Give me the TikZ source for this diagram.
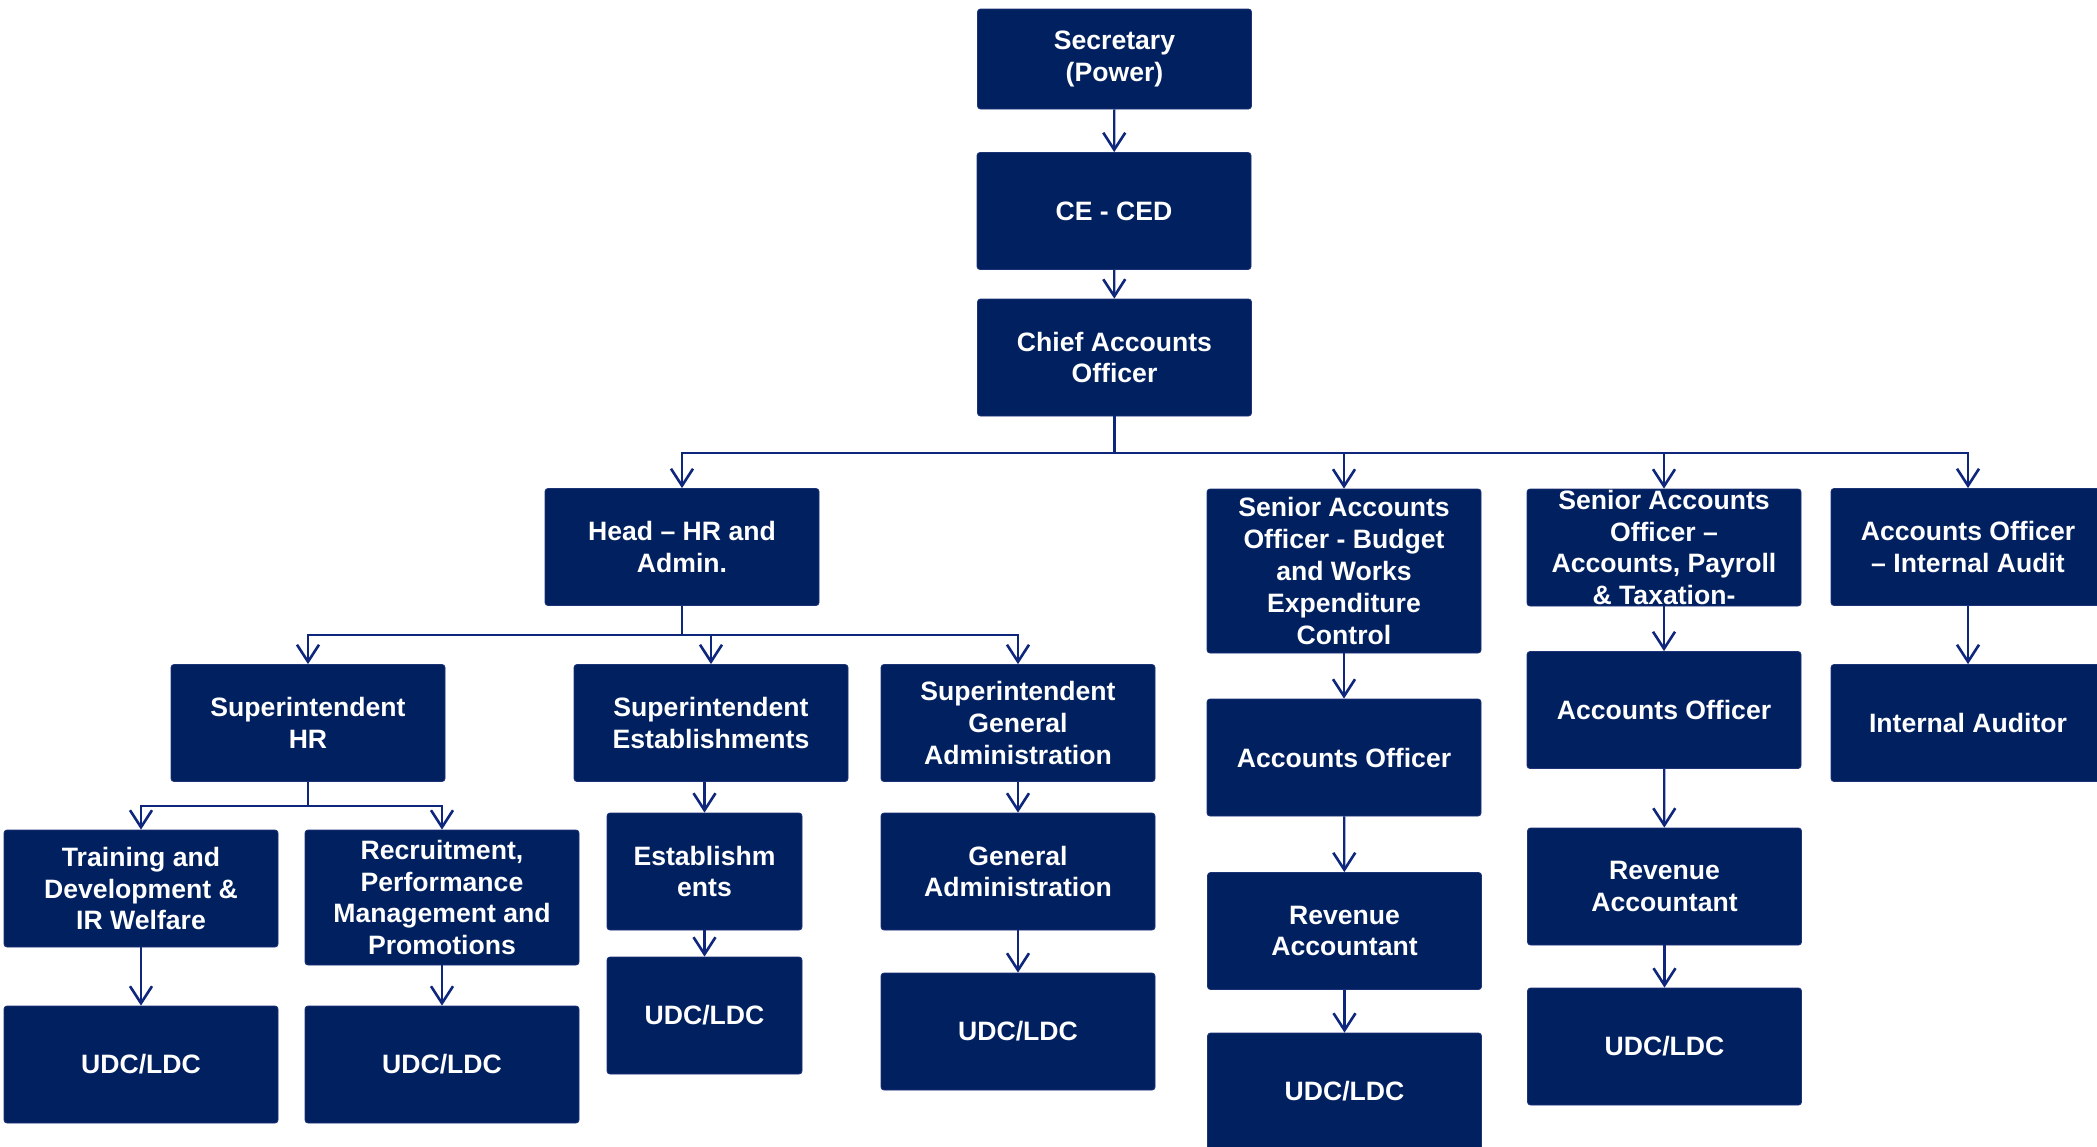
\documentclass[tikz,border=0pt]{standalone}
\usepackage{fontspec}
\setmainfont{Liberation Sans}
\usetikzlibrary{arrows.meta}
\definecolor{boxfill}{RGB}{0,32,96}
\definecolor{boxedge}{RGB}{30,50,120}
\definecolor{linkc}{RGB}{14,38,124}
\tikzset{
  orgbox/.style={draw=boxedge, line width=0.4pt, fill=boxfill, rounded corners=1.5pt,
    text=white, font=\bfseries\fontsize{13.3}{15.9}\selectfont, align=center,
    inner xsep=2pt, inner ysep=0pt, minimum width=137pt, minimum height=58.5pt},
  narrowbox/.style={orgbox, minimum width=97.5pt},
  link/.style={draw=linkc, line width=1.1pt,
    -{Straight Barb[length=8.5pt, width=11pt, line width=1.3pt]}},
}
\begin{document}
\begin{tikzpicture}[x=0.5pt, y=-0.5pt]
\useasboundingbox (0,0) rectangle (2097,1146);

% top of the hierarchy
\node[orgbox, minimum height=50pt] (sec) at (1114.5,59) {Secretary\\(Power)};
\node[orgbox] (ce)  at (1114,211)   {CE - CED};
\node[orgbox] (cao) at (1114.5,357.5) {Chief Accounts\\Officer};

% second level
\node[orgbox] (head) at (682,547)  {Head -- HR and\\Admin.};
\node[orgbox, minimum height=82pt] (saob) at (1344,571) {Senior Accounts\\Officer - Budget\\and Works\\Expenditure\\Control};
\node[orgbox] (saoa) at (1664,547.5) {Senior Accounts\\Officer --\\Accounts, Payroll\\\& Taxation-};
\node[orgbox] (aoia) at (1968,547)  {Accounts Officer\\-- Internal Audit};

% third level
\node[orgbox] (suphr)  at (308,723)  {Superintendent\\HR};
\node[orgbox] (supest) at (711,723)  {Superintendent\\Establishments};
\node[orgbox] (supga)  at (1018,723) {Superintendent\\General\\Administration};
\node[orgbox] (ao1)    at (1344,757.5) {Accounts Officer};
\node[orgbox] (ao2)    at (1664,710) {Accounts Officer};
\node[orgbox] (ia)     at (1968,723) {Internal Auditor};

% fourth level
\node[orgbox] (train) at (141,888.5) {Training and\\Development \&\\IR Welfare};
\node[orgbox, minimum height=67.5pt] (recr) at (442,897.5) {Recruitment,\\Performance\\Management and\\Promotions};
\node[narrowbox] (estab) at (704.5,871.5) {Establishm\\ents};
\node[orgbox] (ga)  at (1018,871.5) {General\\Administration};
\node[orgbox] (ra1) at (1344.5,931) {Revenue\\Accountant};
\node[orgbox] (ra2) at (1664.5,886.5) {Revenue\\Accountant};

% clerical staff
\node[orgbox]    (udct) at (141,1064.5)   {UDC/LDC};
\node[orgbox]    (udcr) at (442,1064.5)   {UDC/LDC};
\node[narrowbox] (udce) at (704.5,1015.5) {UDC/LDC};
\node[orgbox]    (udcg) at (1018,1031.5)  {UDC/LDC};
\node[orgbox]    (udc1) at (1344.5,1091.5) {UDC/LDC};
\node[orgbox]    (udc2) at (1664.5,1046.5) {UDC/LDC};

% bus lines
\coordinate (mainbus) at (1114,453);
\coordinate (hrbus)   at (682,635);
\coordinate (subbus)  at (308,806);

% connectors
\draw[link] (sec) -- (ce);
\draw[link] (ce) -- (cao);

\foreach \t in {head,saob,saoa,aoia}
  \draw[link] (cao.south) -- (cao.south |- mainbus) -| (\t.north);

\foreach \t in {suphr,supest,supga}
  \draw[link] (head.south) -- (head.south |- hrbus) -| (\t.north);

\foreach \t in {train,recr}
  \draw[link] (suphr.south) -- (suphr.south |- subbus) -| (\t.north);

\draw[link] (estab.north |- supest.south) -- (estab.north);
\draw[link] (supga) -- (ga);
\draw[link] (saob) -- (ao1);
\draw[link] (saoa) -- (ao2);
\draw[link] (aoia) -- (ia);

\draw[link] (train) -- (udct);
\draw[link] (recr) -- (udcr);
\draw[link] (estab) -- (udce);
\draw[link] (ga) -- (udcg);
\draw[link] (ao1) -- (ra1);
\draw[link] (ra1) -- (udc1);
\draw[link] (ao2) -- (ra2);
\draw[link] (ra2) -- (udc2);
\end{tikzpicture}
\end{document}
